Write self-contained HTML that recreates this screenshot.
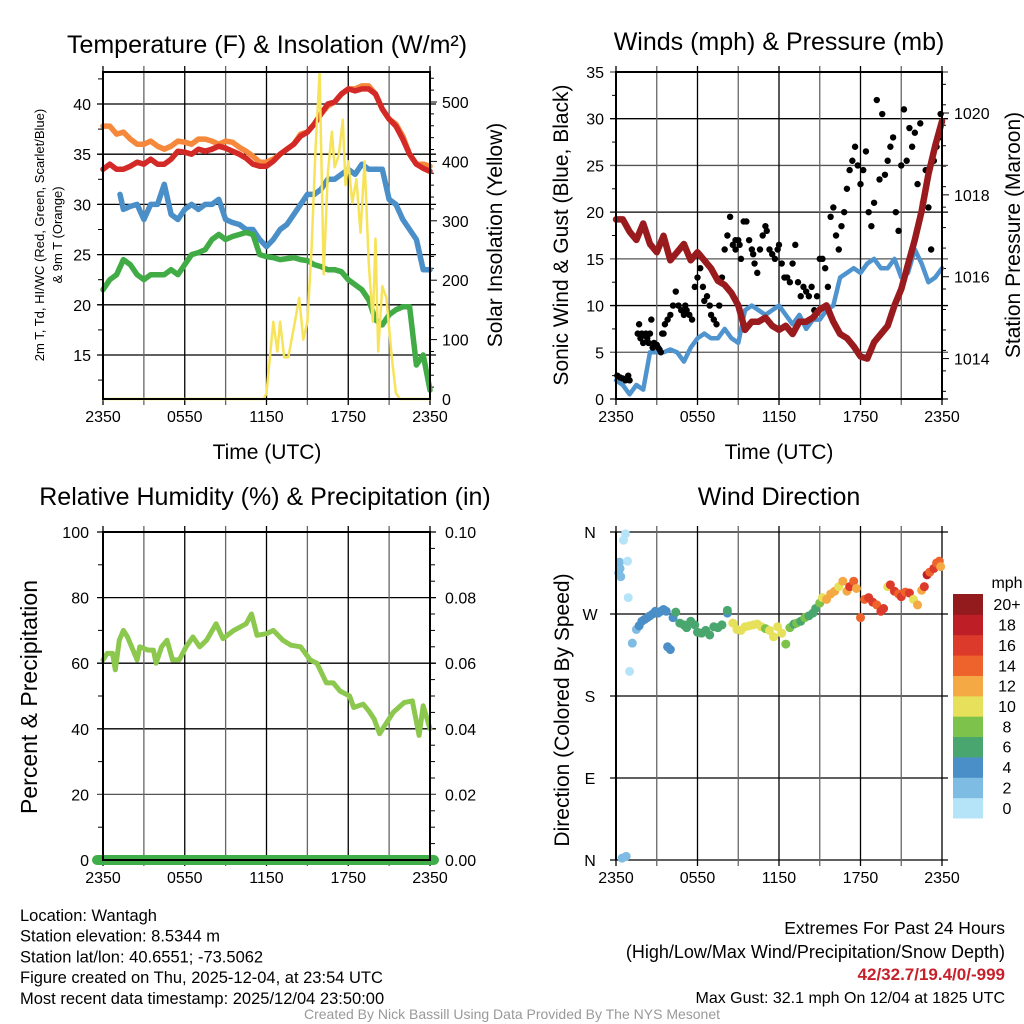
<!DOCTYPE html>
<html><head><meta charset="utf-8"><style>
body{margin:0;background:#fff;}
svg{display:block;font-family:"Liberation Sans",sans-serif;}
</style></head><body>
<svg id="c" width="1024" height="1024" viewBox="0 0 1024 1024"></svg>
<script>
// ---------- DATA ----------
const xTickLabels=["2350","0550","1150","1750","2350"];
const tempTickLabels=[15,20,25,30,35,40];
const solarTickLabels=[0,100,200,300,400,500];
const windTickLabels=[0,5,10,15,20,25,30,35];
const presTickLabels=[1014,1016,1018,1020];
const rhTickLabels=[0,20,40,60,80,100];
const precipTickLabels=["0.00","0.02","0.04","0.06","0.08","0.10"];
const dirTickLabels=["N","E","S","W","N"];
const speedBins=["0","2","4","6","8","10","12","14","16","18","20+"];
const speedColors=["#b5e4f9","#7fbce4","#4a8fc7","#49a66f","#7cc24b","#e6e05a","#f5a944","#ee632c","#dc3a2a","#be1f26","#931a1d"];

const tHalf=[0,0.5,1,1.5,2,2.5,3,3.5,4,4.5,5,5.5,6,6.5,7,7.5,8,8.5,9,9.5,10,10.5,11,11.5,12,12.5,13,13.5,14,14.5,15,15.5,16,16.5,17,17.5,18,18.5,19,19.5,20,20.5,21,21.5,22,22.5,23,23.5,24];
const orangeT=[37.8,37.8,37,37.2,36.5,36,36,36.3,35.8,35.5,35.8,36.3,36.2,36,36.5,36.5,36.3,36,36.3,36.2,35.7,35.3,34.8,34.2,34.2,34.5,35,35.5,36,37,37.2,38,39,39.8,40.2,41,41.5,41.5,41.8,41.8,41,39.5,38.5,38,36.8,35,34,34,33.8];
const redT=[33.5,34,33.5,33.5,33.8,34.2,34,34.5,34,34,34.5,35.3,35.2,35,35.5,35.3,35.5,35.8,35.6,35.3,35,34.6,34,33.8,33.8,34.3,35,35.5,36,36.8,37.2,38,39,40,40.2,41,41.5,41.3,41.5,41.5,41,39.5,38.5,37.8,36.5,35,34,33.6,33.3];
const greenT=[21.5,22.5,23,24.5,24,23,22.5,23,23,23,23.5,23,24,25,25.2,25.5,26.5,27,26.5,26.8,27,27.2,27,25,24.8,24.7,24.5,24.6,24.7,24.5,24.4,24,23.8,23.5,23.5,23.3,22.5,22,21.5,20.5,18.5,18,19,19.5,19.8,19.8,14,15,11.5];
const blueTimes=[1.25,1.5,2,2.5,3,3.5,4,4.5,5,5.5,6,6.5,7,7.5,8,8.5,9,9.5,10,10.5,11,11.5,12,12.5,13,13.5,14,14.5,15,15.5,16,16.5,17,17.5,18,18.5,19,19.5,20,20.5,21,21.5,22,22.5,23,23.5,24];
const blueT=[31,29.5,29.8,30,28.5,30,30,32,29,28.5,29.5,30,29.5,30,30,30.5,28.5,28.2,28,27.5,27.5,26.5,25.8,26.5,27.5,28,29,30,31,31,31.5,32.5,32.5,33,33.5,33,34,33.5,33.5,33.5,30.5,30,28.5,27.5,26.5,23.5,23.5];
const solarTimes=[0,11.8,12,12.5,12.8,13,13.3,13.6,14,14.4,14.7,15,15.3,15.6,15.9,16.2,16.5,16.8,17,17.3,17.6,17.8,18,18.3,18.6,18.9,19.2,19.5,19.8,20,20.2,20.5,20.8,21.2,21.5,21.8,24];
const solarW=[0,0,10,130,80,130,70,70,120,170,100,130,250,420,550,210,380,450,390,410,470,360,400,330,370,280,400,230,130,270,80,190,170,70,10,0,0];

const windSpeed=[2,1.5,0.5,1.5,1,5,5,5,5.3,5,4,5.5,6.5,7,6.5,6.5,7.5,6.5,6,9.5,10,9.5,9,9.5,10,9,8,9,7.5,8.5,8.5,9.5,10,13,13.5,14,13.5,14.5,15,14,14,15,13,13.5,16,14.5,12.5,13,14];
const pressure=[1017.4,1017.4,1017.1,1016.9,1017.3,1016.8,1016.6,1017.0,1016.4,1016.6,1016.8,1016.4,1016.6,1016.4,1016.2,1015.9,1015.8,1015.6,1015.3,1014.7,1014.9,1014.9,1015.0,1014.8,1014.7,1014.8,1014.6,1014.9,1014.9,1015.0,1015.2,1015.3,1014.9,1014.6,1014.5,1014.3,1014.05,1014.0,1014.4,1014.6,1014.8,1015.3,1015.7,1016.3,1016.9,1017.6,1018.5,1019.2,1019.8];
const gustTimes=[0.1,0.3,0.5,0.7,0.9,1.0,1.6,1.7,1.8,1.9,2.0,2.1,2.2,2.3,2.4,2.5,2.6,2.7,2.8,3.0,3.1,3.2,3.3,3.4,3.5,3.6,3.8,4.0,4.2,4.4,4.6,4.8,5.0,5.1,5.2,5.4,5.6,5.8,6.0,6.2,6.4,6.5,6.7,6.9,7.0,7.2,7.4,7.6,7.8,8.0,8.2,8.4,8.6,8.8,8.8,9.0,9.1,9.2,9.4,9.6,9.8,10.0,10.1,10.2,10.4,10.6,10.8,11.0,11.1,11.3,11.5,11.7,11.9,12.0,12.2,12.4,12.6,12.8,13.0,13.2,13.4,13.6,13.8,14.0,14.2,14.4,14.6,14.8,15.0,15.2,15.4,15.6,15.8,16.0,16.2,16.4,16.6,16.8,17.0,17.2,17.4,17.6,17.8,18.0,18.2,18.4,18.6,18.8,19.0,19.2,19.4,19.6,19.8,20.0,20.2,20.4,20.6,20.8,21.0,21.2,21.4,21.6,21.8,22.0,22.2,22.4,22.6,22.8,23.0,23.2,23.4,23.6,23.8,23.9];
const gustVals=[2.5,2.3,2.2,2,2.5,2,7,8,6.5,7,6,6.8,7,6.5,6,7,8.5,5.5,6,5.8,5.5,5.3,5,7,7,8,8.5,9,10,11.5,10,9.5,9,10,9.5,9,8.5,12,13,14,12,10.5,11,10,9,8.5,8,10,13,16,17.5,19.5,16.5,17,16,17,16.5,15,19,19,17,16,15.5,14.5,13.5,16,17.5,18.5,18,16,15.5,15,16,16.5,14.5,13,13,12.5,14.5,16.5,12.5,11,12,11.5,11,12,9.5,11,15,15,14,12,19.5,20.5,17.5,16,18.5,20,22.5,24.5,25.5,27,25,23,24.5,26.5,20,18.5,21,32,23.5,30.5,24,25.5,27,28,20,18,25,31,25.5,29,27,28.5,23,29.5,21,24.5,20.5,16,25.5,27,28,30.5,26,20.5,22,20,28.5];

const rhTimes=[0,0.3,0.7,0.9,1.2,1.5,1.8,2.5,2.7,3.3,3.7,3.9,4.3,4.7,5.1,5.6,6.1,6.6,7.1,7.6,8.3,8.8,9.6,10.5,10.9,11.3,12.0,12.5,13.2,13.8,14.5,15.2,15.7,16.4,16.9,17.4,18.1,18.4,19.1,19.5,19.9,20.3,21.3,22.1,22.7,23.2,23.5,24];
const rhVals=[61,63,63,58,67,70,68,61,65,64,64,60,65,67,61,61,65,68,65,67,72,67.5,70,72,75,68.5,69,70,67,65.5,65,61,60,54,54,51.5,50,46.5,47.5,45.5,43,38.5,45,48,48.5,38,47,40];

const dirTimes=[0.2,0.3,0.25,0.35,0.55,0.7,0.85,0.9,1.0,1.2,0.45,0.75,1.5,1.7,1.9,2.1,2.3,2.5,2.7,2.9,3.1,3.3,3.5,3.7,3.8,4.0,4.2,4.4,4.7,5.0,5.2,5.5,5.8,6.0,6.3,6.6,6.9,7.2,7.5,7.8,8.2,8.2,8.6,8.9,9.2,9.5,9.8,10.1,10.4,10.7,11.0,11.3,11.6,11.9,12.2,12.5,12.8,13.1,13.3,13.6,13.9,14.2,14.5,14.7,15.0,15.2,15.5,15.8,16.1,16.4,16.7,17.0,17.2,17.5,17.7,18.0,18.3,18.6,18.9,19.2,19.5,19.7,20.0,20.2,20.5,20.8,21.0,21.3,21.6,21.9,22.2,22.5,22.7,22.9,23.1,23.4,23.6,23.8,23.9];
const dirDeg=[315,320,327,311,351,358,328,288,207,238,2,4,253,257,262,264,266,268,270,273,271,273,275,273,234,231,266,272,260,258,255,262,258,250,249,252,247,256,255,258,271,274,260,253,252,256,257,258,259,256,254,252,245,256,249,237,255,259,260,262,266,268,271,276,282,288,286,292,295,300,306,295,300,306,298,266,286,288,283,280,273,276,300,302,295,292,289,294,293,286,280,296,300,313,316,320,326,328,322];
const dirSpeed=[3,3,3,2,0,1,1,1,1,2,2,2,3,4,4,4,4,4,4,4,4,4,4,5,4,4,5,6,6,6,6,7,6,7,7,7,6,6,7,6,4,7,10,10,10,10,11,11,10,10,9,10,10,11,11,8,8,7,8,7,8,6,7,7,9,10,12,13,12,10,13,13,16,15,13,15,14,17,16,14,16,16,10,16,17,14,17,15,17,11,13,12,17,18,14,16,15,14,12];

// ---------- DRAW ----------
const NS="http://www.w3.org/2000/svg";
const svg=document.getElementById('c');
function mk(tag,attrs,parent){const e=document.createElementNS(NS,tag);for(const k in attrs)e.setAttribute(k,attrs[k]);(parent||svg).appendChild(e);return e;}
function txt(s,x,y,size,anchor,parent,extra){const e=mk('text',Object.assign({x:x,y:y,'font-size':size,'text-anchor':anchor||'middle',fill:'#000'},extra||{}),parent);e.textContent=s;return e;}

function panel(name,L,R,T,B){
  const g=mk('g',{});
  
  
  return {g:g,L:L,R:R,T:T,B:B,x:t=>L+(R-L)*t/24};
}
function xAxis(p,labels){
  for(let i=0;i<=8;i++){
    const x=p.x(i*3);
    const gl=mk('line',{x1:x,y1:p.T-6,x2:x,y2:p.B+6,stroke:i%2?'#666':'#000','stroke-width':1.3},p.g);
    
    
  }
  labels.forEach((s,i)=>{const e=txt(s,p.x(i*6),p.B+23,16,'middle',p.g);});
}
function hGrid(p,y,dark){const l=mk('line',{x1:p.L-6,y1:y,x2:p.R+6,y2:y,stroke:dark?'#000':'#555','stroke-width':1.3},p.g);}
function frame(p){const r=mk('rect',{x:p.L,y:p.T,width:p.R-p.L,height:p.B-p.T,fill:'none',stroke:'#000','stroke-width':2},p.g);}
function path(p,xs,ys,fx,fy,color,w,name){
  let d='';xs.forEach((t,i)=>{d+=(i?'L':'M')+fx(t).toFixed(1)+','+fy(ys[i]).toFixed(1);});
  const e=mk('path',{d:d,fill:'none',stroke:color,'stroke-width':w,'stroke-linejoin':'round','stroke-linecap':'round'},p.g);
  
  
  return e;
}
function rotText(s,x,y,size,name,parent){const e=txt(s,x,y,size,'middle',parent,{transform:`rotate(-90 ${x} ${y})`});return e;}
function title(s,x,y,name){const e=txt(s,x,y,25,'middle');return e;}

// Panel 1
const p1=panel('temperature-panel',103,430,72,399);
const yT=v=>355-(v-15)*10.04, yS=v=>399-v*0.594;
for(let v=12.5;v<=42.5;v+=2.5){mk('line',{x1:p1.L-5,y1:yT(v),x2:p1.L,y2:yT(v),stroke:'#000','stroke-width':1},p1.g);}
for(let v=20;v<=540;v+=20){mk('line',{x1:p1.R,y1:yS(v),x2:p1.R+(v%100?4:7),y2:yS(v),stroke:'#000','stroke-width':1},p1.g);}
tempTickLabels.forEach(v=>{hGrid(p1,yT(v),true);const e=txt(v,p1.L-12,yT(v)+6,16,'end',p1.g);});
solarTickLabels.forEach(v=>{const e=txt(v,p1.R+12,yS(v)+6,16,'start',p1.g);});
xAxis(p1,xTickLabels);
path(p1,tHalf,orangeT,p1.x,yT,'#f5883a',5.5,'9m-temp-line');
path(p1,tHalf,redT,p1.x,yT,'#d42a27',5.5,'2m-temp-line');
path(p1,blueTimes,blueT,p1.x,yT,'#4b8fc8',5.5,'hi-wc-line');
path(p1,tHalf,greenT,p1.x,yT,'#41ab45',5.5,'dewpoint-line');
path(p1,solarTimes,solarW,p1.x,yS,'#f7e35a',2.5,'solar-line');
frame(p1);
title('Temperature (F) & Insolation (W/m²)',267,53,'temperature-title');
rotText('2m T, Td, HI/WC (Red, Green, Scarlet/Blue)',44,235,13,'temp-y-title');
rotText('& 9m T (Orange)',62,235,13,'temp-y-title-2');
rotText('Solar Insolation (Yellow)',502,235,21,'solar-y-title');
txt('Time (UTC)',267,459,21);

// Panel 2
const p2=panel('wind-panel',616,942,72,399);
const yW=v=>399-v*9.343, yP=v=>113+(1020-v)*40.93;
for(let v=2.5;v<=35;v+=5){mk('line',{x1:p2.L-4,y1:yW(v),x2:p2.L,y2:yW(v),stroke:'#000'},p2.g);}
for(let v=1013.2;v<=1021;v+=0.5){mk('line',{x1:p2.R,y1:yP(v),x2:p2.R+4,y2:yP(v),stroke:'#000'},p2.g);}
windTickLabels.forEach(v=>{hGrid(p2,yW(v),v%10===0);const e=txt(v,p2.L-12,yW(v)+6,16,'end',p2.g);});
presTickLabels.forEach(v=>{mk('line',{x1:p2.R,y1:yP(v),x2:p2.R+7,y2:yP(v),stroke:'#000'},p2.g);const e=txt(v,p2.R+12,yP(v)+6,16,'start',p2.g);});
xAxis(p2,xTickLabels);
path(p2,tHalf,windSpeed,p2.x,yW,'#4f94cf',4.5,'wind-speed-line');
gustTimes.forEach((t,i)=>{const c=mk('circle',{cx:p2.x(t),cy:yW(gustVals[i]),r:3.2,fill:'#000'},p2.g);});
path(p2,tHalf,pressure,p2.x,yP,'#991b1e',6.5,'pressure-line');
frame(p2);
title('Winds (mph) & Pressure (mb)',779,50,'wind-title');
rotText('Sonic Wind & Gust (Blue, Black)',568,235,21,'wind-y-title');
rotText('Station Pressure (Maroon)',1020,235,21,'pressure-y-title');
txt('Time (UTC)',779,459,21);

// Panel 3
const p3=panel('humidity-panel',103,430,532,860);
const yR=v=>860-v*3.28;
for(let v=10;v<=90;v+=20){mk('line',{x1:p3.L-5,y1:yR(v),x2:p3.L,y2:yR(v),stroke:'#000'},p3.g);}
for(let v=5;v<=100;v+=5){mk('line',{x1:p3.R,y1:yR(v),x2:p3.R+5,y2:yR(v),stroke:'#000'},p3.g);}
rhTickLabels.forEach((v,i)=>{hGrid(p3,yR(v),v%40===0||v===60||v===100);const e=txt(v,p3.L-14,yR(v)+6,16,'end',p3.g);const f=txt(precipTickLabels[i],p3.R+15,yR(v)+6,16,'start',p3.g);});
xAxis(p3,xTickLabels);
path(p3,rhTimes,rhVals,p3.x,yR,'#8bc84d',5,'rh-line');
const pr=mk('line',{x1:p3.L-6,y1:860,x2:p3.R+4,y2:860,stroke:'#3fae49','stroke-width':10,'stroke-linecap':'round'},p3.g);

frame(p3);
title('Relative Humidity (%) & Precipitation (in)',265,505,'humidity-title');
rotText('Percent & Precipitation',37,697,23,'rh-y-title');

// Panel 4
const p4=panel('wind-direction-panel',616,942,532,860);
const yD=v=>860-v*(328/360);
dirTickLabels.forEach((s,i)=>{hGrid(p4,yD(i*90),true);const e=txt(s,p4.L-26,yD(i*90)+6,16,'middle',p4.g);});
xAxis(p4,xTickLabels);
dirTimes.forEach((t,i)=>{const b=Math.min(10,Math.floor(dirSpeed[i]/2));const c=mk('circle',{cx:p4.x(t),cy:yD(dirDeg[i]),r:4.5,fill:speedColors[b]},p4.g);});
mk('line',{x1:p4.L,y1:p4.T,x2:p4.L,y2:p4.B,stroke:'#000','stroke-width':2},p4.g);
title('Wind Direction',779,505,'wind-direction-title');
rotText('Direction (Colored By Speed)',569,710,21,'direction-y-title');
// colorbar
const cb=mk('g',{});
const cbTop=594,cbH=224/11;
speedBins.forEach((s,i)=>{const y=cbTop+(10-i)*cbH;mk('rect',{x:953,y:y,width:30,height:cbH+0.5,fill:speedColors[i]},cb);const e=txt(s,1007,y+cbH/2+6,16,'middle',cb);});
txt('mph',1007,588,16,'middle',cb);

// Footer
const ft=mk('g',{});
["Location: Wantagh","Station elevation: 8.5344 m","Station lat/lon: 40.6551; -73.5062","Figure created on Thu, 2025-12-04, at 23:54 UTC","Most recent data timestamp: 2025/12/04 23:50:00"].forEach((s,i)=>txt(s,20,921+i*20.7,16.5,'start',ft));
const ex=mk('g',{});
txt('Extremes For Past 24 Hours',1005,934,17.5,'end',ex);
txt('(High/Low/Max Wind/Precipitation/Snow Depth)',1005,958,18,'end',ex);
txt('42/32.7/19.4/0/-999',1005,980,17,'end',ex,{fill:'#c8202a','font-weight':'bold'});
txt('Max Gust: 32.1 mph On 12/04 at 1825 UTC',1005,1003,16,'end',ex);
const cr=txt('Created By Nick Bassill Using Data Provided By The NYS Mesonet',512,1019,14,'middle',null,{fill:'#999'});

</script>
</body></html>
